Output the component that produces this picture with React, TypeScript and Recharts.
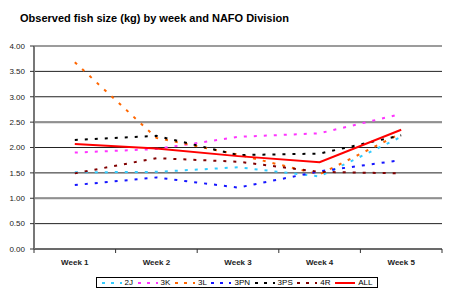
import React from 'react';
import { LineChart, Line, XAxis, YAxis, CartesianGrid, Legend, ReferenceLine } from 'recharts';

// недели и значения по дивизионам NAFO
const weeks = ['Week 1', 'Week 2', 'Week 3', 'Week 4', 'Week 5'];
const div2J = [1.51, 1.52, 1.61, 1.43, 2.21];
const div3K = [1.9, 1.97, 2.21, 2.28, 2.66];
const div3L = [3.68, 2.19, 1.86, 1.47, 2.28];
const div3PN = [1.26, 1.41, 1.21, 1.53, 1.75];
const div3PS = [2.15, 2.23, 1.85, 1.88, 2.24];
const div4R = [1.49, 1.79, 1.72, 1.52, 1.49];
const divAll = [2.07, 1.98, 1.83, 1.71, 2.35];
const yTicks = [0, 0.5, 1, 1.5, 2, 2.5, 3, 3.5, 4];

const FONT = '"Liberation Sans", Arial, sans-serif';

const series = [
  { key: '2J', values: div2J, color: '#33CCFF', dashed: true },
  { key: '3K', values: div3K, color: '#FF33FF', dashed: true },
  { key: '3L', values: div3L, color: '#FF6600', dashed: true },
  { key: '3PN', values: div3PN, color: '#1515FF', dashed: true },
  { key: '3PS', values: div3PS, color: '#000000', dashed: true },
  { key: '4R', values: div4R, color: '#800000', dashed: true },
  { key: 'ALL', values: divAll, color: '#FF0000', dashed: false },
];

const data = weeks.map((week, i) => {
  const row: Record<string, string | number> = { week };
  series.forEach((s) => {
    row[s.key] = s.values[i];
  });
  return row;
});

const HALF_BAND = (450 - 34 - 8) / 5 / 2;

function WeekTick(props: any) {
  const { x, y, payload, index } = props;
  return (
    <g>
      {index === 0 && <line x1={x - HALF_BAND} y1={y} x2={x - HALF_BAND} y2={y + 4} stroke="#333" />}
      <line x1={x + HALF_BAND} y1={y} x2={x + HALF_BAND} y2={y + 4} stroke="#333" />
      <text
        x={x}
        y={y + 16}
        textAnchor="middle"
        fontSize={8}
        fontWeight="bold"
        fontFamily={FONT}
        fill="#222"
      >
        {payload.value}
      </text>
    </g>
  );
}

function LegendBox() {
  return (
    <div
      style={{
        display: 'flex',
        alignItems: 'center',
        justifyContent: 'space-evenly',
        border: '1px solid #000',
        boxSizing: 'border-box',
        height: 11,
        fontFamily: FONT,
        fontSize: 8,
        color: '#000',
        background: '#fff',
      }}
    >
      {series.map((s) => (
        <div key={s.key} style={{ display: 'flex', alignItems: 'center' }}>
          <svg width={20} height={6}>
            <line
              x1={0}
              y1={3}
              x2={20}
              y2={3}
              stroke={s.color}
              strokeWidth={2}
              strokeDasharray={s.dashed ? '3 6' : undefined}
            />
          </svg>
          <span style={{ marginLeft: 3, lineHeight: '9px' }}>{s.key}</span>
        </div>
      ))}
    </div>
  );
}

export default function App() {
  return (
    <div style={{ position: 'absolute', left: 0, top: 0, width: 450, height: 292, background: '#fff' }}>
      <div
        style={{
          position: 'absolute',
          left: 20,
          top: 13,
          fontFamily: FONT,
          fontWeight: 'bold',
          fontSize: 11,
          lineHeight: '11px',
          color: '#000',
          whiteSpace: 'nowrap',
        }}
      >
        Observed fish size (kg) by week and NAFO Division
      </div>
      <LineChart width={450} height={292} data={data} margin={{ top: 46, right: 8, left: 8, bottom: 4 }}>
        <CartesianGrid vertical={false} stroke="#222" />
        <XAxis
          dataKey="week"
          height={28}
          padding={{ left: HALF_BAND, right: HALF_BAND }}
          tickLine={false}
          tickSize={0}
          tickMargin={0}
          axisLine={{ stroke: '#444' }}
          tick={<WeekTick />}
          interval={0}
        />
        <YAxis
          width={26}
          domain={[0, 4]}
          ticks={yTicks}
          interval={0}
          tickFormatter={(v: number) => v.toFixed(2)}
          tick={{ fontSize: 8, fontFamily: FONT, fill: '#222' }}
          tickSize={4}
          tickMargin={5}
          tickLine={{ stroke: '#333' }}
          axisLine={{ stroke: '#777', strokeWidth: 2 }}
        />
        <YAxis
          yAxisId="right"
          orientation="right"
          width={0}
          domain={[0, 4]}
          tick={false}
          tickLine={false}
          axisLine={{ stroke: '#a0a0a0' }}
        />
        <ReferenceLine y={4} stroke="#a0a0a0" strokeWidth={1.5} />
        <ReferenceLine y={2.5} stroke="#909090" strokeWidth={2} />
        <ReferenceLine y={1} stroke="#909090" strokeWidth={2} />
        <Legend
          verticalAlign="bottom"
          content={<LegendBox />}
          wrapperStyle={{ left: 96, width: 282, height: 11 }}
        />
        {series.map((s) => (
          <Line
            key={s.key}
            dataKey={s.key}
            stroke={s.color}
            strokeWidth={2}
            strokeDasharray={s.dashed ? '3 7' : undefined}
            dot={false}
            activeDot={false}
            isAnimationActive={false}
          />
        ))}
      </LineChart>
    </div>
  );
}
